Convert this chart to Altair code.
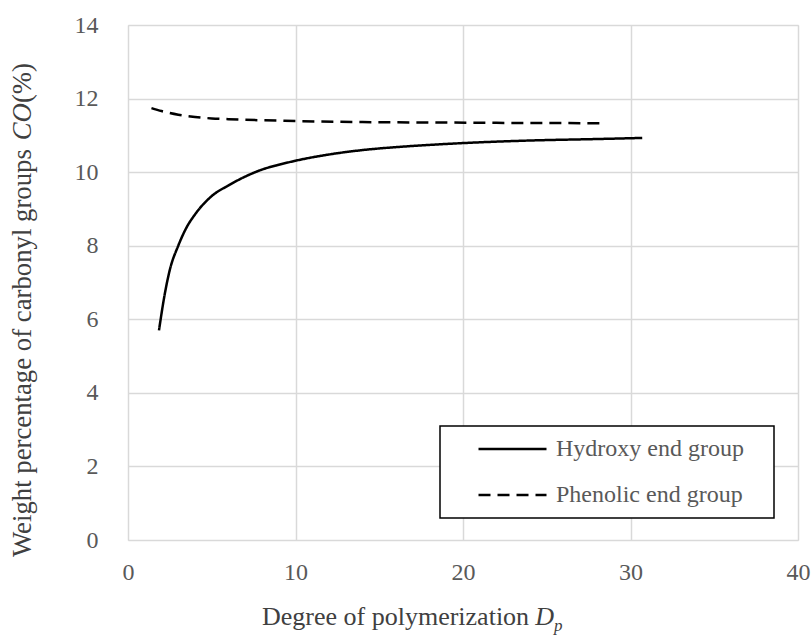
import altair as alt
import pandas as pd

# ---- data ----
series_names = ["Hydroxy end group", "Phenolic end group"]

dp_hydroxy = [1.85, 2.2, 2.5, 3.0, 3.5, 4.0, 5.0, 6.0, 7.0, 8.0, 9.0, 10.0,
              12.0, 14.0, 16.0, 18.0, 20.0, 24.0, 28.0, 30.7]
co_hydroxy = [5.7, 6.7, 7.35, 8.0, 8.5, 8.85, 9.35, 9.64, 9.88, 10.07, 10.2, 10.31,
              10.48, 10.6, 10.68, 10.74, 10.79, 10.86, 10.9, 10.93]

dp_phenolic = [1.4, 2.0, 3.0, 4.0, 5.0, 6.0, 8.0, 10.0, 14.0, 18.0, 22.0, 28.2]
co_phenolic = [11.74, 11.66, 11.56, 11.5, 11.46, 11.44, 11.41, 11.39, 11.36, 11.35, 11.34, 11.33]

x_ticks = [0, 10, 20, 30, 40]
y_ticks = [0, 2, 4, 6, 8, 10, 12, 14]

x_title_parts = ["Degree of polymerization", "D", "p"]
y_title_parts = ["Weight percentage of carbonyl groups", "CO", "(%)"]

df = pd.concat([
    pd.DataFrame({"dp": dp_hydroxy, "co": co_hydroxy, "series": series_names[0]}),
    pd.DataFrame({"dp": dp_phenolic, "co": co_phenolic, "series": series_names[1]}),
], ignore_index=True)

FONT = "'Liberation Serif', 'Times New Roman', Times, serif"
TICK_COLOR = "#595959"
TITLE_COLOR = "#404040"
GRID = "#d9d9d9"

# legend frame (plot-area pixels)
LX, LY, LW, LH = 312, 401, 334, 92

legend_box = alt.Chart(pd.DataFrame({"k": [0]})).mark_rect(
    fill="white", stroke="black", strokeWidth=1.5
).encode(x=alt.value(LX), x2=alt.value(LX + LW), y=alt.value(LY), y2=alt.value(LY + LH))

lines = alt.Chart(df).mark_line(color="black", strokeWidth=2.5, interpolate="monotone").encode(
    x=alt.X("dp:Q", scale=alt.Scale(domain=[0, 40], nice=False),
            axis=alt.Axis(values=x_ticks, title=None, grid=True, ticks=False, domain=False,
                          labelFlush=False, labelOverlap=False,
                          labelPadding=20, labelFontSize=24, labelFont=FONT, labelColor=TICK_COLOR,
                          gridColor=GRID, gridWidth=1.5, format="d")),
    y=alt.Y("co:Q", scale=alt.Scale(domain=[0, 14], nice=False),
            axis=alt.Axis(values=y_ticks, title=None, grid=True, ticks=False, domain=False,
                          labelFlush=False, labelOverlap=False,
                          labelPadding=30, labelFontSize=24, labelFont=FONT, labelColor=TICK_COLOR,
                          gridColor=GRID, gridWidth=1.5, format="d")),
    strokeDash=alt.StrokeDash("series:N",
                              scale=alt.Scale(domain=series_names, range=[[1, 0], [12, 7]]),
                              legend=alt.Legend(title=None, orient="none", legendX=LX, legendY=LY,
                                                symbolType="stroke", symbolSize=4624,
                                                symbolStrokeWidth=2.5, symbolStrokeColor="black",
                                                labelFontSize=24, labelFont=FONT, labelColor=TICK_COLOR,
                                                labelOffset=8, labelLimit=500, padding=11, symbolOffset=26,
                                                clipHeight=24, rowPadding=22)),
)

def txt(s, x, y, size, italic=False, angle=0, align="left"):
    kw = dict(font=FONT, fontSize=size, color=TITLE_COLOR, align=align, baseline="alphabetic")
    if italic:
        kw["fontStyle"] = "italic"
    if angle:
        kw["angle"] = angle
    return alt.Chart(pd.DataFrame({"t": [s]})).mark_text(**kw).encode(
        text="t:N", x=alt.value(x), y=alt.value(y))

fx = 26
x0 = 134
xD = x0 + 10.505 * fx
xp = xD + 0.722 * fx
fy = 26.75
ybase = 532
yCO = ybase - 15.579 * fy
yP = yCO - 1.389 * fy
ytx = -97

titles = [
    txt(x_title_parts[0], x0, 600, fx),
    txt(x_title_parts[1], xD, 600, fx, italic=True),
    txt(x_title_parts[2], xp, 606, 17, italic=True),
    txt(y_title_parts[0], ytx, ybase, fy, angle=270),
    txt(y_title_parts[1], ytx, yCO, fy, italic=True, angle=270),
    txt(y_title_parts[2], ytx, yP, fy, angle=270),
]

chart = alt.layer(legend_box, lines, *titles).properties(
    width=670, height=515,
    autosize=alt.AutoSizeParams(type="none"),
    padding={"left": 128, "top": 25, "right": 13, "bottom": 97},
).configure_view(stroke="#c8c8c8", strokeWidth=2).configure(font=FONT)

chart.save("out.html", embed_options={"renderer": "svg", "actions": False})
